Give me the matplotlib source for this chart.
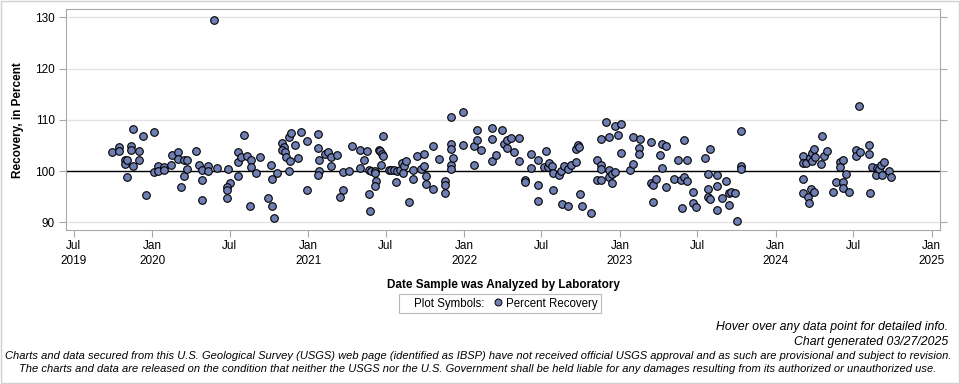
import matplotlib
matplotlib.use('Agg')
import matplotlib.pyplot as plt
from matplotlib.lines import Line2D
from matplotlib.patches import Rectangle
import numpy as np
import pandas as pd

# Percent recovery vs date analyzed (date kept as decimal year)
analysis_year = [
    2019.743, 2019.788, 2019.788, 2019.827, 2019.825, 2019.840, 2019.840, 2019.865, 2019.865, 2019.878,
    2019.878, 2019.917, 2019.917, 2019.942, 2019.959, 2020.011, 2020.011, 2020.036, 2020.036, 2020.079,
    2020.079, 2020.118, 2020.126, 2020.167, 2020.167, 2020.205, 2020.205, 2020.225, 2020.225, 2020.186,
    2020.284, 2020.301, 2020.321, 2020.321, 2020.321, 2020.359, 2020.359, 2020.419, 2020.398,
    2020.485, 2020.500, 2020.481, 2020.481, 2020.481, 2020.550, 2020.550, 2020.550, 2020.571, 2020.590,
    2020.609, 2020.635, 2020.635, 2020.629, 2020.667, 2020.693, 2020.763, 2020.770, 2020.744, 2020.770,
    2020.783, 2020.802, 2020.834, 2020.847, 2020.834, 2020.853, 2020.860, 2020.879, 2020.885, 2020.879,
    2020.892, 2020.917, 2020.937, 2020.956, 2020.994, 2020.994, 2021.065, 2021.065, 2021.071, 2021.071,
    2021.065, 2021.110, 2021.129, 2021.148, 2021.148, 2021.187, 2021.223, 2021.223, 2021.206, 2021.259,
    2021.283,
    2021.334, 2021.334, 2021.360, 2021.379, 2021.392, 2021.405, 2021.428, 2021.430, 2021.437, 2021.430,
    2021.392, 2021.398, 2021.454, 2021.462, 2021.475, 2021.482, 2021.469, 2021.482, 2021.520, 2021.533,
    2021.552, 2021.572, 2021.565, 2021.591, 2021.599, 2021.612, 2021.608, 2021.629, 2021.646, 2021.674,
    2021.674, 2021.700, 2021.725, 2021.745, 2021.745, 2021.758, 2021.758, 2021.802, 2021.802, 2021.841,
    2021.879, 2021.879, 2021.879, 2021.918, 2021.918, 2021.918, 2021.918, 2021.918, 2021.931, 2021.995,
    2021.995, 2022.065, 2022.065, 2022.085, 2022.085,
    2022.110, 2022.181, 2022.181, 2022.181, 2022.207, 2022.245, 2022.258, 2022.277, 2022.277, 2022.299,
    2022.322, 2022.354, 2022.354, 2022.393, 2022.393, 2022.431, 2022.431, 2022.476, 2022.476, 2022.476,
    2022.514, 2022.527, 2022.540, 2022.547, 2022.566, 2022.572, 2022.572, 2022.611, 2022.624, 2022.643,
    2022.664, 2022.688, 2022.720, 2022.720, 2022.733, 2022.739, 2022.630, 2022.664, 2022.745, 2022.758,
    2022.816, 2022.854, 2022.854,
    2022.880, 2022.880, 2022.880, 2022.880, 2022.912, 2022.931, 2022.931, 2022.931, 2022.951, 2022.951,
    2022.970, 2022.970, 2022.989, 2023.008, 2023.008, 2023.066, 2023.085, 2023.085, 2023.130, 2023.124,
    2023.124, 2023.201, 2023.201, 2023.214, 2023.214, 2023.233, 2023.259, 2023.271, 2023.271, 2023.297,
    2023.297, 2023.348, 2023.374, 2023.393, 2023.400, 2023.412, 2023.412, 2023.432, 2023.432, 2023.470,
    2023.470, 2023.489, 2023.547, 2023.579, 2023.566, 2023.566, 2023.566, 2023.579, 2023.624, 2023.624,
    2023.624, 2023.656, 2023.682, 2023.701, 2023.701, 2023.716, 2023.740, 2023.752, 2023.778, 2023.778,
    2023.778,
    2024.176, 2024.176, 2024.176, 2024.176, 2024.195, 2024.208, 2024.214, 2024.221, 2024.225, 2024.234,
    2024.234, 2024.246, 2024.246, 2024.253, 2024.291, 2024.298, 2024.310, 2024.330, 2024.368, 2024.387,
    2024.413, 2024.413, 2024.432, 2024.432, 2024.432, 2024.452, 2024.471, 2024.516, 2024.516, 2024.535,
    2024.541, 2024.599, 2024.599, 2024.606, 2024.618, 2024.644, 2024.650, 2024.663, 2024.676, 2024.683,
    2024.695, 2024.727, 2024.740,
]
percent_recovery = [
    103.71, 104.68, 103.97, 102.15, 101.43, 102.21, 98.89, 104.88, 104.10, 108.20,
    100.98, 103.84, 102.15, 106.83, 95.38, 107.61, 99.80, 100.91, 100.00, 100.72,
    100.26, 101.17, 103.12, 103.71, 102.28, 102.15, 99.09, 102.15, 100.39, 96.88,
    103.84, 101.17, 100.26, 98.24, 94.34, 100.98, 100.00, 100.65, 129.40,
    100.46, 97.66, 96.81, 96.36, 94.73, 103.71, 101.76, 99.09, 102.80, 107.02,
    102.93, 102.15, 100.85, 93.24, 99.67, 102.80, 101.24, 98.50, 94.73, 93.24,
    90.89, 99.67, 105.46, 104.62, 104.10, 103.71, 102.73, 100.00, 101.95, 106.57,
    107.41, 105.07, 102.60, 107.61, 105.92, 96.36, 107.22, 104.49, 102.21, 100.00,
    99.22, 103.32, 103.64, 102.73, 101.04, 103.12, 99.87, 96.29, 94.99, 99.93,
    104.94,
    104.16, 100.65, 102.21, 103.97, 100.20, 100.00, 100.00, 99.61, 98.11, 97.14,
    95.58, 92.26, 104.16, 103.84, 103.32, 102.93, 101.24, 106.83, 100.26, 100.20,
    100.20, 100.00, 97.92, 100.20, 101.56, 100.98, 99.61, 102.02, 94.02, 100.20,
    98.50, 102.93, 100.46, 103.32, 101.04, 99.09, 97.53, 96.49, 104.94, 102.41,
    97.98, 97.27, 95.71, 110.54, 105.33, 104.36, 101.24, 100.46, 102.60, 111.58,
    105.14, 104.94, 101.24, 108.00, 106.11,
    104.16, 108.39, 106.31, 101.95, 103.12, 108.07, 105.27, 106.11, 104.49, 106.44,
    103.71, 106.44, 101.95, 98.31, 97.85, 103.32, 100.65, 102.21, 97.33, 94.15,
    100.85, 103.97, 100.85, 101.63, 101.04, 99.67, 96.29, 99.22, 100.00, 101.04,
    100.46, 101.24, 101.82, 104.36, 105.14, 104.68, 93.63, 93.24, 95.51, 93.24,
    91.87, 102.21, 98.24,
    106.24, 101.17, 100.39, 98.24, 109.56, 106.63, 100.20, 98.83, 99.41, 97.66,
    108.78, 99.87, 107.02, 109.17, 103.51, 100.26, 101.37, 106.63, 106.24, 104.49,
    103.32, 105.66, 97.66, 97.20, 93.95, 98.44, 103.12, 105.33, 100.59, 104.88,
    96.94, 98.50, 102.15, 98.31, 92.78, 106.05, 98.89, 102.15, 98.11, 95.90,
    93.82, 92.98, 102.54, 104.29, 99.41, 96.49, 94.99, 94.54, 99.22, 97.14,
    92.39, 94.73, 98.05, 95.71, 93.37, 95.90, 95.71, 90.24, 107.80, 100.98,
    100.46,
    102.99, 101.63, 98.44, 95.71, 101.63, 94.99, 93.76, 102.54, 96.49, 103.45,
    101.95, 104.36, 95.90, 102.73, 101.37, 106.83, 102.93, 103.90, 95.90, 97.85,
    101.82, 100.78, 102.15, 97.85, 96.68, 99.41, 95.90, 104.10, 102.93, 112.68,
    103.71, 105.07, 103.32, 95.71, 100.78, 99.22, 100.59, 100.46, 101.24, 99.22,
    101.76, 100.00, 98.83,
]
y_ticks = [90, 100, 110, 120, 130]
x_tick_start, x_tick_end = '2019-07-01', '2025-01-01'


def to_date(decimal_year):
    yr = np.floor(decimal_year)
    start = pd.to_datetime(yr.astype(int).astype(str) + '-01-01')
    return start + pd.to_timedelta((decimal_year - yr) * 365.25, unit='D')


dates = to_date(np.array(analysis_year))

plt.rcParams['font.family'] = ['Liberation Sans', 'DejaVu Sans']

fig = plt.figure(figsize=(9.6, 3.84), dpi=100)
ax = fig.add_axes([0.0684, 0.401, 0.9111, 0.5748])

ax.axhline(100, color='black', lw=1, zorder=2)
sc = ax.scatter(dates, percent_recovery, s=30, color='#6F7EB3', edgecolor='black',
                linewidth=0.8, zorder=3, label='Percent Recovery')

ax.set_xlim(to_date(np.array([2019.4445, 2025.0545])))
ax.set_ylim(88.5, 131.56)
ax.set_yticks(y_ticks)
ax.grid(axis='y', color='#e4e4e4', lw=1, zorder=0)

ticks = pd.date_range(x_tick_start, x_tick_end, freq='6MS')
labels = []
for i, t in enumerate(ticks):
    if t.month == 1 or i == 0:
        labels.append(t.strftime('%b') + '\n' + str(t.year))
    else:
        labels.append(t.strftime('%b'))
ax.set_xticks(ticks)
ax.set_xticklabels(labels, linespacing=1.35)

for s in ax.spines.values():
    s.set_color('#a8a8a8')
ax.tick_params(axis='both', colors='#a8a8a8', labelcolor='black', labelsize=8.5, length=5)
ax.tick_params(axis='x', pad=2)
ax.tick_params(axis='y', right=True, pad=3)

ax.set_ylabel('Recovery, in Percent', fontsize=8.5, fontweight='bold', labelpad=8)
ax.set_xlabel('Date Sample was Analyzed by Laboratory', fontsize=8.5, fontweight='bold', labelpad=9)

blank = Line2D([], [], linestyle='none')
mk = Line2D([], [], linestyle='none', marker='o', markersize=5, markerfacecolor='#6F7EB3',
            markeredgecolor='black', markeredgewidth=0.7)
leg = fig.legend([blank, mk], ['Plot Symbols:', 'Percent Recovery'], ncol=2,
                 loc='center', bbox_to_anchor=(500 / 960, 1 - 303.5 / 384), fontsize=8.3,
                 frameon=True, fancybox=False, handlelength=0.6, handletextpad=0.4,
                 columnspacing=0.9, borderpad=0.3)
leg.get_frame().set_edgecolor('#a8a8a8')
leg.get_frame().set_linewidth(0.8)

foot = dict(style='italic', fontsize=8.05)
fig.text(948 / 960, 1 - 327 / 384, 'Hover over any data point for detailed info.', ha='right', va='center',
         style='italic', fontsize=8.8)
fig.text(948 / 960, 1 - 342 / 384, 'Chart generated 03/27/2025', ha='right', va='center',
         style='italic', fontsize=8.8)
fig.text(478 / 960, 1 - 356 / 384,
         'Charts and data secured from this U.S. Geological Survey (USGS) web page (identified as IBSP) have not '
         'received official USGS approval and as such are provisional and subject to revision.',
         ha='center', va='center', **foot)
fig.text(478 / 960, 1 - 369 / 384,
         'The charts and data are released on the condition that neither the USGS nor the U.S. Government shall '
         'be held liable for any damages resulting from its authorized or unauthorized use.',
         ha='center', va='center', **foot)

fig.patches.append(Rectangle((0.001, 0.002), 0.998, 0.996, transform=fig.transFigure,
                             fill=False, edgecolor='#d0d0d0', lw=1))

fig.savefig('out.png', dpi=100)
